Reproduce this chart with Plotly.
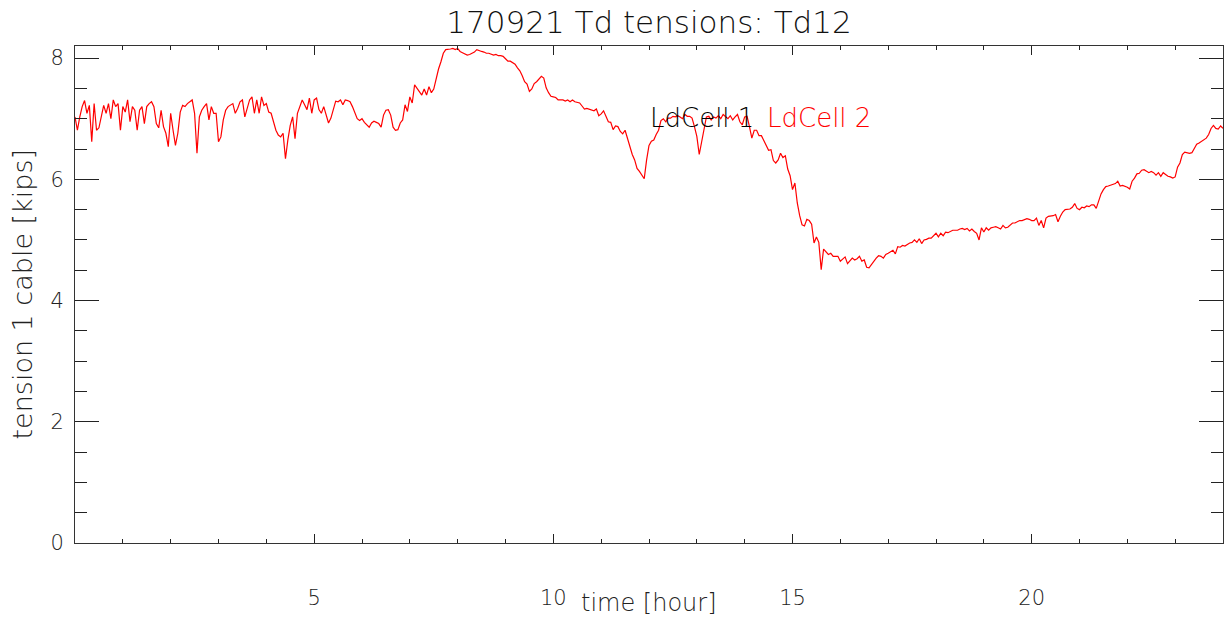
import numpy as np
import plotly.graph_objects as go

# Load-cell 2 cable tension [kips], sampled every 3 minutes (0.05 h) over the day
tension_00_06 = [
    7.03, 6.81, 7.03, 7.20, 7.30, 7.09, 7.22, 6.62, 7.25, 6.81, 6.85, 7.06, 7.22, 7.09, 7.25, 7.00, 7.31, 7.20, 7.25, 6.81,
    7.20, 7.11, 7.31, 6.95, 7.20, 7.14, 6.81, 7.14, 7.20, 6.92, 7.20, 7.25, 7.28, 7.20, 6.92, 6.85, 7.14, 6.87, 6.76, 6.54,
    7.09, 6.81, 6.56, 6.76, 7.11, 7.22, 7.20, 7.25, 7.28, 7.31, 7.09, 6.43, 7.03, 7.14, 7.20, 7.25, 6.98, 7.20, 7.09, 7.09,
    6.62, 6.70, 6.98, 7.14, 7.20, 7.22, 7.25, 7.09, 7.17, 7.28, 7.31, 7.03, 7.17, 7.31, 7.36, 7.09, 7.31, 7.09, 7.36, 7.22,
    7.25, 7.11, 7.09, 6.95, 6.81, 6.73, 6.70, 6.76, 6.34, 6.65, 6.89, 7.03, 6.67, 7.09, 7.20, 7.31, 7.23, 7.15, 7.34, 7.09,
    7.31, 7.34, 7.15, 7.09, 7.20, 7.06, 6.93, 7.01, 7.15, 7.29, 7.28, 7.31, 7.23, 7.31, 7.30, 7.28, 7.20, 7.08, 7.00, 6.97,
]
tension_06_12 = [
    7.00, 6.94, 6.90, 6.86, 6.93, 6.96, 6.94, 6.92, 6.86, 7.06, 7.14, 7.15, 7.06, 6.86, 6.81, 6.82, 6.93, 6.98, 7.23, 7.12,
    7.36, 7.26, 7.56, 7.50, 7.45, 7.39, 7.49, 7.39, 7.53, 7.43, 7.49, 7.66, 7.82, 7.94, 8.08, 8.14, 8.14, 8.15, 8.16, 8.14,
    8.16, 8.11, 8.09, 8.07, 8.05, 8.06, 8.08, 8.10, 8.14, 8.12, 8.11, 8.10, 8.08, 8.08, 8.06, 8.05, 8.06, 8.04, 8.04, 8.03,
    7.99, 7.95, 7.95, 7.93, 7.90, 7.84, 7.79, 7.71, 7.61, 7.57, 7.45, 7.49, 7.58, 7.61, 7.66, 7.70, 7.67, 7.51, 7.43, 7.37,
    7.36, 7.35, 7.31, 7.31, 7.31, 7.29, 7.31, 7.28, 7.31, 7.28, 7.27, 7.26, 7.21, 7.16, 7.17, 7.16, 7.15, 7.13, 7.16, 7.05,
    7.08, 7.13, 7.04, 6.95, 6.94, 6.82, 6.88, 6.87, 6.79, 6.75, 6.81, 6.67, 6.57, 6.41, 6.32, 6.18, 6.13, 6.07, 6.01, 6.32,
]
tension_12_18 = [
    6.56, 6.63, 6.65, 6.74, 6.81, 6.97, 7.00, 6.95, 7.01, 7.01, 7.04, 7.03, 7.05, 7.03, 7.00, 7.07, 7.04, 7.04, 7.01, 6.87,
    6.71, 6.41, 6.63, 6.87, 7.03, 7.04, 6.98, 7.03, 7.01, 7.05, 7.00, 7.07, 7.03, 7.00, 7.05, 6.98, 7.03, 7.07, 6.95, 6.90,
    7.03, 7.04, 6.87, 6.68, 6.81, 6.81, 6.72, 6.72, 6.64, 6.57, 6.48, 6.49, 6.31, 6.27, 6.32, 6.43, 6.36, 6.39, 6.17, 6.06,
    5.83, 5.94, 5.61, 5.40, 5.25, 5.23, 5.34, 5.32, 5.26, 4.95, 5.05, 4.96, 4.51, 4.85, 4.81, 4.76, 4.78, 4.73, 4.73, 4.73,
    4.65, 4.69, 4.72, 4.61, 4.66, 4.70, 4.67, 4.69, 4.73, 4.65, 4.67, 4.55, 4.54, 4.60, 4.64, 4.70, 4.74, 4.73, 4.70, 4.76,
    4.78, 4.80, 4.83, 4.77, 4.89, 4.88, 4.91, 4.90, 4.93, 4.95, 4.96, 5.00, 4.96, 5.02, 4.94, 5.00, 5.01, 5.03, 5.03, 5.07,
]
tension_18_24 = [
    5.11, 5.05, 5.11, 5.07, 5.13, 5.12, 5.14, 5.16, 5.16, 5.16, 5.18, 5.19, 5.17, 5.19, 5.15, 5.18, 5.14, 5.11, 5.00, 5.20,
    5.13, 5.20, 5.16, 5.20, 5.21, 5.22, 5.20, 5.18, 5.24, 5.20, 5.21, 5.25, 5.28, 5.28, 5.30, 5.32, 5.32, 5.34, 5.35, 5.34,
    5.32, 5.32, 5.36, 5.24, 5.32, 5.20, 5.36, 5.39, 5.39, 5.40, 5.42, 5.30, 5.39, 5.46, 5.50, 5.51, 5.51, 5.54, 5.60, 5.52,
    5.50, 5.54, 5.53, 5.56, 5.55, 5.58, 5.58, 5.52, 5.66, 5.76, 5.83, 5.88, 5.89, 5.90, 5.91, 5.93, 5.97, 5.89, 5.90, 5.89,
    5.87, 5.84, 5.97, 6.02, 6.09, 6.10, 6.15, 6.16, 6.13, 6.11, 6.13, 6.11, 6.07, 6.11, 6.05, 6.11, 6.08, 6.05, 6.04, 6.02,
    6.04, 6.20, 6.27, 6.41, 6.45, 6.44, 6.43, 6.44, 6.52, 6.58, 6.60, 6.63, 6.65, 6.68, 6.74, 6.84, 6.89, 6.84, 6.83, 6.88,
    6.84,
]

x_tick_vals = [5, 10, 15, 20]
x_tick_text = ["5", "10", "15", "20"]
y_tick_vals = [0, 2, 4, 6, 8]
y_tick_text = ["0", "2", "4", "6", "8"]
legend_labels = ["LdCell 1", "LdCell 2"]
legend_colors = ["#000000", "#ff0000"]

title_text = "170921 Td tensions: Td12"
x_title = "time [hour]"
y_title = "tension 1 cable [kips]"

tension = np.array(tension_00_06 + tension_06_12 + tension_12_18 + tension_18_24)
time_h = np.linspace(0, 24, len(tension))

FONT = "DejaVu Sans"
TXT = "#222222"

fig = go.Figure()
fig.add_trace(go.Scatter(
    x=time_h, y=tension, mode="lines",
    line=dict(color="#ff0000", width=1.2),
    name=legend_labels[1], showlegend=False, hoverinfo="skip",
))

fig.update_layout(
    width=1231, height=624,
    margin=dict(l=75, r=8, t=46, b=81),
    paper_bgcolor="white", plot_bgcolor="white",
    font=dict(family=FONT, color=TXT, size=21, weight=200),
    title=dict(
        text=title_text, x=0.5, xref="paper", xanchor="center",
        y=1 - 22 / 624, yref="container", yanchor="middle",
        font=dict(family=FONT, size=31, color="#111111", weight=200),
    ),
    showlegend=False,
)

fig.update_xaxes(
    range=[0, 24], showgrid=False, zeroline=False,
    showline=True, linecolor="#333333", linewidth=1, mirror="ticks",
    ticks="inside", ticklen=9, tickwidth=1, tickcolor="#222222",
    tickmode="array", tickvals=x_tick_vals, ticktext=x_tick_text,
    ticklabelstandoff=36,
    minor=dict(ticks="inside", ticklen=4, tickwidth=1, tickcolor="#222222",
               tickmode="array", tickvals=list(range(1, 24))),
)
fig.update_yaxes(
    range=[0, 8.2], showgrid=False, zeroline=False,
    showline=True, linecolor="#333333", linewidth=1, mirror="ticks",
    ticks="inside", ticklen=24, tickwidth=1, tickcolor="#222222",
    tickmode="array", tickvals=y_tick_vals, ticktext=y_tick_text,
    ticklabelstandoff=6,
    minor=dict(ticks="inside", ticklen=12, tickwidth=1, tickcolor="#222222",
               tickmode="array", tickvals=[v / 2 for v in range(1, 17)]),
)

# axis titles
fig.add_annotation(
    text=x_title, xref="paper", yref="paper", x=0.5, y=-60 / 497,
    xanchor="center", yanchor="middle", showarrow=False,
    font=dict(family=FONT, size=24, color=TXT, weight=200),
)
fig.add_annotation(
    text=y_title, xref="paper", yref="paper", x=-53 / 1148, y=0.5,
    xanchor="center", yanchor="middle", textangle=-90, showarrow=False,
    font=dict(family=FONT, size=27, color=TXT, weight=200),
)

# series labels
label_x = [(648 - 75) / 1148, (765 - 75) / 1148]
for lbl, col, lx in zip(legend_labels, legend_colors, label_x):
    fig.add_annotation(
        text=lbl, xref="paper", yref="paper", x=lx, y=(543 - 118) / 497,
        xanchor="left", yanchor="middle", showarrow=False,
        font=dict(family=FONT, size=26, color=col, weight=200),
    )

fig.write_html("out.html")
